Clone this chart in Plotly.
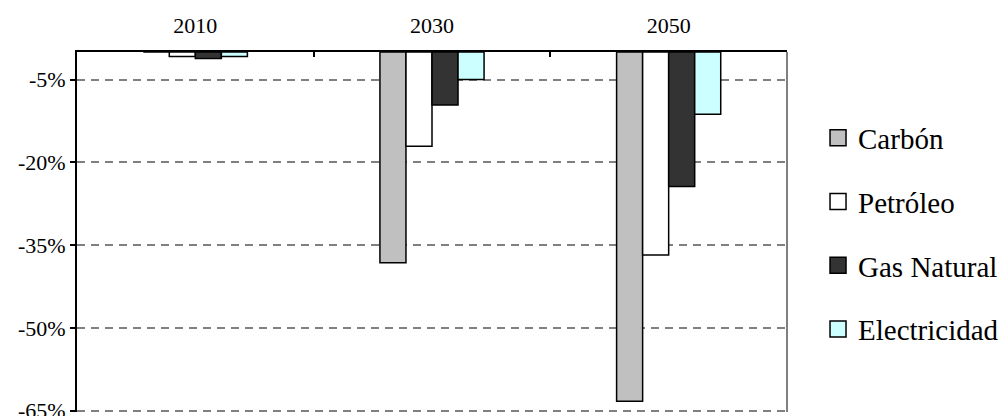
import plotly.graph_objects as go

# Variación del consumo final por fuente respecto al escenario base (%)
years = ["2010", "2030", "2050"]
carbon = [0.0, -38.2, -63.3]
petroleo = [-0.8, -17.1, -36.8]
gas_natural = [-1.2, -9.6, -24.4]
electricidad = [-0.8, -5.0, -11.3]

series_names = ["Carbón", "Petróleo", "Gas Natural", "Electricidad"]
series_values = [carbon, petroleo, gas_natural, electricidad]
series_colors = ["#C0C0C0", "#FFFFFF", "#333333", "#CCFFFF"]

y_tick_vals = [-5, -20, -35, -50, -65]
y_tick_text = ["-5%", "-20%", "-35%", "-50%", "-65%"]

FONT = "Liberation Serif"

fig = go.Figure()

for name, vals, col in zip(series_names, series_values, series_colors):
    fig.add_trace(go.Bar(
        x=years, y=vals, name=name, showlegend=False,
        marker=dict(color=col, line=dict(color="black", width=1.5)),
    ))

# legend entries with larger square swatches
for name, col in zip(series_names, series_colors):
    fig.add_trace(go.Scatter(
        x=[None], y=[None], mode="markers", name=name, legendgroup=name,
        marker=dict(symbol="square", size=16, color=col,
                    line=dict(color="black", width=1.5)),
    ))

fig.update_layout(
    width=1003, height=416,
    margin=dict(l=77, r=216, t=52, b=4, autoexpand=False),
    paper_bgcolor="white", plot_bgcolor="white",
    barmode="group", bargap=0.56, bargroupgap=0,
    font=dict(family=FONT, size=22, color="black"),
    legend=dict(
        x=1.0437, xanchor="left", y=0.832, yanchor="top",
        font=dict(family=FONT, size=29, color="black"),
        tracegroupgap=23, bgcolor="rgba(0,0,0,0)",
        itemsizing="trace",
    ),
    xaxis=dict(
        type="category", side="top", automargin=False,
        showline=True, linecolor="black", linewidth=2,
        ticks="inside", ticklen=5, tickwidth=1.5, tickcolor="black",
        tickson="boundaries", showgrid=False,
        tickfont=dict(family=FONT, size=22, color="black"),
        ticklabelstandoff=8,
    ),
    yaxis=dict(
        range=[-65.25, 0], tickvals=y_tick_vals, ticktext=y_tick_text,
        automargin=False,
        showline=True, linecolor="black", linewidth=2,
        ticks="outside", ticklen=5, tickwidth=1.5, tickcolor="black",
        showgrid=True, gridcolor="#808080", gridwidth=1.5, griddash="8px,6px",
        zeroline=False, ticklabeloverflow="allow",
        tickfont=dict(family=FONT, size=22, color="black"),
    ),
    shapes=[dict(type="line", xref="paper", yref="paper",
                 x0=1, x1=1, y0=0, y1=1,
                 line=dict(color="black", width=1))],
)

fig.write_html("out.html")
